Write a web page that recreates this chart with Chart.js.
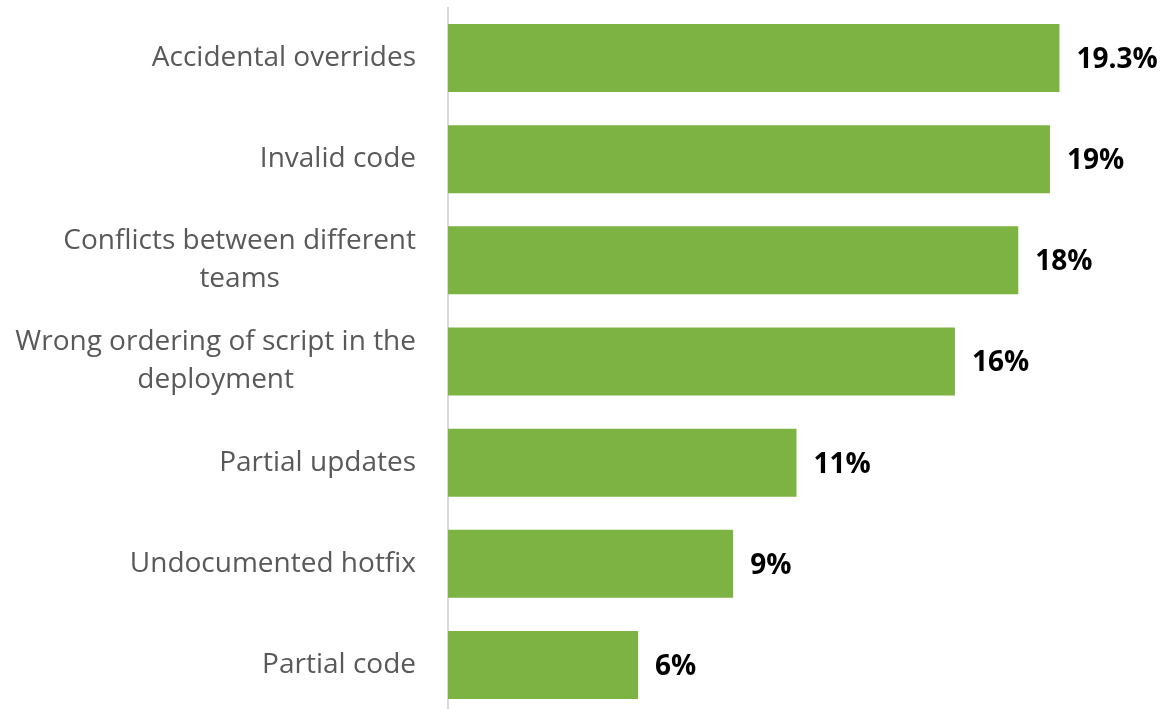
<!DOCTYPE html>
<html>
<head>
<meta charset="utf-8">
<script src="https://cdn.jsdelivr.net/npm/chart.js@4/dist/chart.umd.min.js"></script>
<style>
  html, body { margin: 0; padding: 0; background: #fff; overflow: hidden; }
  #wrap { width: 1169px; height: 716px; }
</style>
</head>
<body>
<div id="wrap"><canvas id="grafico" width="1169" height="716"></canvas></div>
<script>
// categorias (linhas quebradas onde o rótulo não cabe)
var categorias = [
    ['Accidental overrides'],
    ['Invalid code'],
    ['Conflicts between different', 'teams'],
    ['Wrong ordering of script in the', 'deployment'],
    ['Partial updates'],
    ['Undocumented hotfix'],
    ['Partial code']
]
// percentual de cada problema
var valores = [19.3, 19, 18, 16, 11, 9, 6]

var corBarra = '#7cb342'
var corTexto = '#595959'

// desenha os nomes das categorias: bloco alinhado à direita, linhas centralizadas entre si
const rotulosEixo = {
    id: 'rotulosEixo',
    afterDraw(chart) {
        const ctx = chart.ctx
        const y = chart.scales.y
        const direita = 416
        const alturaLinha = 38
        ctx.save()
        ctx.font = '28px "Open Sans"'
        ctx.fillStyle = corTexto
        ctx.textAlign = 'center'
        ctx.textBaseline = 'middle'
        for (var i = 0; i < categorias.length; i++) {
            var linhas = categorias[i]
            var larg = 0
            for (var j = 0; j < linhas.length; j++) {
                larg = Math.max(larg, ctx.measureText(linhas[j]).width)
            }
            var cx = direita - larg / 2
            var cy = y.getPixelForTick(i)
            var inicio = cy - (linhas.length - 1) * alturaLinha / 2
            for (var j = 0; j < linhas.length; j++) {
                ctx.fillText(linhas[j], cx, inicio + j * alturaLinha)
            }
        }
        ctx.restore()
    }
}

// valor em negrito ao lado de cada barra
const rotulosValor = {
    id: 'rotulosValor',
    afterDatasetsDraw(chart) {
        const ctx = chart.ctx
        const meta = chart.getDatasetMeta(0)
        ctx.save()
        ctx.font = 'bold 28px "Open Sans"'
        ctx.fillStyle = '#000'
        ctx.textAlign = 'left'
        ctx.textBaseline = 'middle'
        meta.data.forEach((barra, i) => {
            ctx.fillText(valores[i] + '%', barra.x + 17, barra.y + 2)
        })
        ctx.restore()
    }
}

const ctxBarra = document.getElementById('grafico').getContext('2d')
const grafico = new Chart(ctxBarra, {
    type: 'bar',
    data: {
        labels: categorias,
        datasets: [{
            data: valores,
            backgroundColor: corBarra,
            borderWidth: 0,
            barPercentage: 0.672,
            categoryPercentage: 1
        }]
    },
    options: {
        indexAxis: 'y',
        responsive: false,
        animation: false,
        layout: { padding: { left: 0, right: 24, top: 7.5, bottom: 0.5 } },
        plugins: { legend: { display: false }, tooltip: { enabled: false } },
        scales: {
            x: { display: false, min: 0, max: 22 },
            y: {
                grid: { display: false, drawTicks: false },
                border: { display: true, color: '#d9d9d9', width: 2 },
                ticks: { display: false },
                afterFit(scale) { scale.width = 448 }
            }
        }
    },
    plugins: [rotulosEixo, rotulosValor]
})
</script>
</body>
</html>
